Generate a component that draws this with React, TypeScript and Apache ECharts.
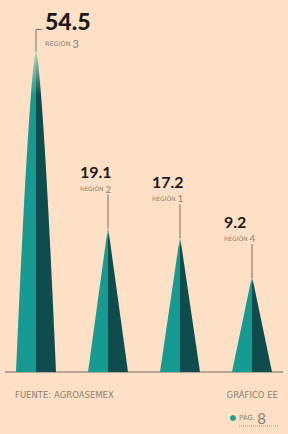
import React, { useEffect, useRef } from "react";
import * as echarts from "echarts";

const categories = ["REGIÓN 3", "REGIÓN 2", "REGIÓN 1", "REGIÓN 4"];
const regionNumbers = ["3", "2", "1", "4"];
const values = [54.5, 19.1, 17.2, 9.2];
const sourceText = "FUENTE: AGROASEMEX";
const chartCode = "GRÁFICO EE";
const pageLabel = "PÁG.";
const pageNumber = "8";

const Y_MIN = -10;
const Y_MAX = 60;
const LIGHT = "#169a92";
const DARK = "#0e4c4e";
const INK = "#1f1a17";
const GREY = "#8d8073";
const LEADER = "#7d7064";
const FONT = "Lato, 'Noto Sans', sans-serif";
const WIDE = "'DejaVu Sans', sans-serif";

export default function App() {
  const ref = useRef<HTMLDivElement>(null);
  useEffect(() => {
    document.body.style.margin = "0";
    const chart = echarts.init(ref.current!, null, { renderer: "svg" });
    const maxVal = Math.max(...values);

    const renderItem = (params: any, api: any) => {
      const i = params.dataIndex;
      const v = api.value(1);
      const tip = api.coord([i, v]);
      const base = api.coord([i, Y_MIN]);
      const cx = tip[0];
      const ty = tip[1];
      const by = base[1];
      const h = by - ty;
      const hw = 20;
      const p = h > 200 ? 0.7 : 1;
      const steps = 24;
      const left: number[][] = [[cx, by]];
      const right: number[][] = [[cx, by]];
      for (let s = steps; s >= 0; s--) {
        const t = s / steps;
        const w = hw * Math.pow(t, p);
        const y = ty + t * h;
        left.push([cx - w, y]);
        right.push([cx + w, y]);
      }
      const grad = (c: string) =>
        new echarts.graphic.LinearGradient(0, 0, 0, 1, [
          { offset: 0, color: "#b9dcc0" },
          { offset: h > 200 ? 0.14 : 0.08, color: c },
          { offset: 1, color: c },
        ]);
      const children: any[] = [
        { type: "polygon", shape: { points: left }, style: { fill: grad(LIGHT) } },
        { type: "polygon", shape: { points: right }, style: { fill: grad(DARK) } },
      ];
      const isMax = api.value(1) === maxVal;
      if (isMax) {
        children.push({
          type: "polyline",
          shape: { points: [[cx, ty + 2], [cx, ty - 20], [cx + 6, ty - 20]] },
          style: { stroke: LEADER, lineWidth: 1, fill: null },
        });
        children.push({
          type: "text",
          style: {
            x: cx + 9, y: ty - 17, text: String(v), fill: INK,
            font: `900 23px ${FONT}`, textVerticalAlign: "bottom", textAlign: "left",
          },
        });
        children.push({
          type: "text",
          style: {
            x: cx + 9, y: ty - 6,
            text: "{a|REGIÓN }{b|" + regionNumbers[i] + "}",
            rich: {
              a: { fontSize: 6.5, fill: GREY, fontFamily: WIDE },
              b: { fontSize: 11, fill: GREY, fontFamily: FONT },
            },
            textVerticalAlign: "middle",
          },
        });
      } else {
        children.push({
          type: "line",
          shape: { x1: cx, y1: ty + 2, x2: cx, y2: ty - 32 },
          style: { stroke: LEADER, lineWidth: 1 },
        });
        children.push({
          type: "text",
          style: {
            x: cx - 28, y: ty - 55, text: String(v), fill: INK,
            font: `700 16px ${FONT}`, textVerticalAlign: "middle", textAlign: "left",
          },
        });
        children.push({
          type: "text",
          style: {
            x: cx - 28, y: ty - 38,
            text: "{a|REGIÓN }{b|" + regionNumbers[i] + "}",
            rich: {
              a: { fontSize: 6, fill: GREY, fontFamily: WIDE },
              b: { fontSize: 10, fill: GREY, fontFamily: FONT },
            },
            textVerticalAlign: "middle",
          },
        });
      }
      return { type: "group", children };
    };

    chart.setOption({
      animation: false,
      backgroundColor: "#fde0c5",
      grid: { left: -1, right: -5, top: 22, bottom: 62 },
      xAxis: {
        type: "category",
        data: categories,
        show: false,
      },
      yAxis: { type: "value", min: Y_MIN, max: Y_MAX, show: false },
      series: [
        {
          type: "custom",
          renderItem,
          data: values.map((v, i) => [i, v]),
          clip: false,
        },
      ],
      graphic: [
        {
          type: "line",
          shape: { x1: 5, y1: 372, x2: 283, y2: 372 },
          style: { stroke: "#b5a48f", lineWidth: 2 },
        },
        {
          type: "text",
          x: 15, y: 395,
          style: { text: sourceText, fill: GREY, font: `8.5px ${WIDE}`, textVerticalAlign: "middle" },
        },
        {
          type: "text",
          x: 278, y: 395,
          style: { text: chartCode, fill: GREY, font: `8.5px ${WIDE}`, textVerticalAlign: "middle", textAlign: "right" },
        },
        {
          type: "circle",
          shape: { cx: 233, cy: 418, r: 3 },
          style: { fill: "#17a58a" },
        },
        {
          type: "text",
          x: 239, y: 418,
          style: {
            text: "{a|" + pageLabel + " }{b|" + pageNumber + "}",
            rich: {
              a: { fontSize: 7, fill: GREY, fontFamily: WIDE },
              b: { fontSize: 15, fill: GREY, fontFamily: FONT },
            },
            textVerticalAlign: "middle",
          },
        },
        {
          type: "line",
          shape: { x1: 239, y1: 426, x2: 278, y2: 426 },
          style: { stroke: "#a89a8b", lineWidth: 1, lineDash: [1, 1] },
        },
      ],
    });
    return () => chart.dispose();
  }, []);
  return (
    <div
      ref={ref}
      style={{ position: "absolute", left: 0, top: 0, width: 288, height: 434 }}
    />
  );
}
